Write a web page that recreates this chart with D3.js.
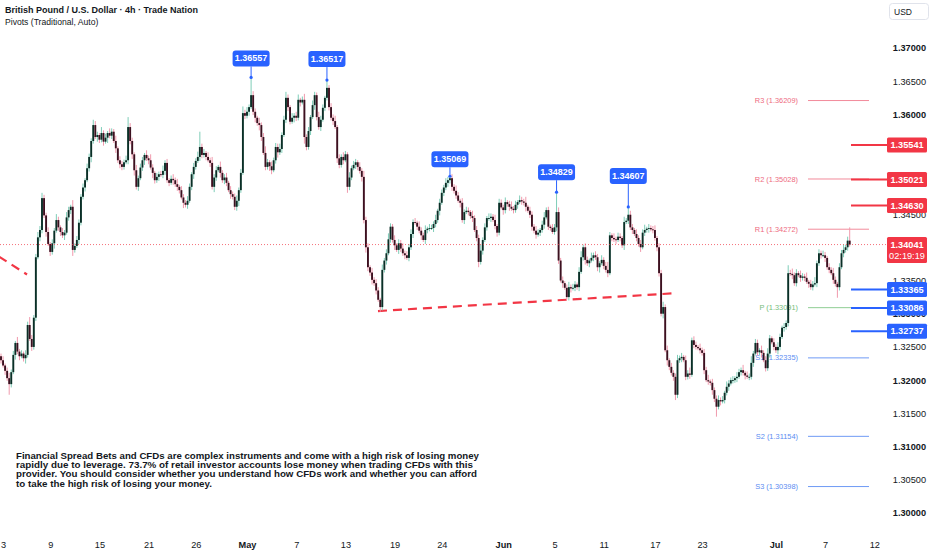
<!DOCTYPE html>
<html>
<head>
<meta charset="utf-8">
<script src="https://cdn.jsdelivr.net/npm/d3@7"></script>
<style>
  body { margin: 0; background: #ffffff; }
  svg { display: block; font-family: "Liberation Sans", Arial, sans-serif; }
</style>
</head>
<body>
<div id="chart"></div>
<script>
// GBPUSD 4h candles, closes in pips (price x 10000), open = previous close
var firstOpen = 13236;
var closes = [
  13230,13222,13214,13203,13194,13212,13238,13256,13243,13236,13240,13233,13238,13283,13262,13250,13294,13385,13415,13426,
  13474,13448,13423,13405,13393,13406,13425,13441,13430,13423,13418,13422,13445,13456,13461,13396,13402,13411,13437,13476,
  13490,13501,13519,13536,13560,13584,13566,13569,13562,13572,13559,13565,13572,13568,13574,13560,13549,13531,13525,13521,
  13528,13531,13581,13560,13540,13516,13491,13504,13520,13531,13539,13534,13531,13520,13512,13501,13506,13510,13509,13515,
  13527,13501,13497,13503,13501,13495,13491,13486,13475,13467,13464,13470,13491,13510,13521,13530,13536,13551,13539,13542,
  13536,13531,13527,13491,13505,13516,13521,13512,13501,13505,13497,13486,13480,13476,13461,13470,13486,13512,13602,13598,
  13604,13611,13629,13604,13595,13587,13584,13566,13542,13521,13528,13522,13516,13531,13551,13543,13548,13569,13592,13625,
  13611,13589,13595,13598,13595,13622,13618,13622,13566,13551,13575,13596,13614,13629,13596,13581,13592,13610,13625,13640,
  13611,13595,13590,13581,13534,13524,13536,13531,13540,13491,13505,13519,13524,13528,13521,13515,13506,13441,13400,13370,
  13362,13351,13346,13335,13321,13310,13366,13380,13391,13412,13431,13411,13403,13396,13406,13398,13391,13388,13384,13400,
  13420,13438,13437,13431,13425,13418,13411,13426,13428,13429,13429,13435,13441,13455,13467,13482,13490,13497,13501,13504,
  13491,13485,13478,13470,13467,13441,13453,13455,13453,13447,13444,13426,13414,13378,13395,13411,13430,13444,13444,13446,
  13441,13432,13422,13467,13460,13456,13468,13465,13461,13458,13456,13464,13468,13471,13469,13467,13461,13455,13449,13431,
  13425,13419,13422,13426,13434,13445,13456,13431,13429,13423,13430,13453,13380,13350,13346,13339,13325,13340,13338,13339,
  13344,13340,13363,13385,13400,13381,13376,13380,13384,13388,13385,13370,13376,13381,13372,13366,13361,13418,13414,13412,
  13411,13416,13414,13403,13438,13440,13449,13430,13426,13420,13414,13405,13400,13422,13426,13428,13429,13427,13426,13414,
  13400,13361,13300,13310,13245,13230,13220,13211,13205,13178,13230,13233,13235,13230,13205,13210,13208,13260,13253,13250,
  13248,13245,13241,13215,13200,13198,13196,13185,13172,13160,13170,13168,13170,13181,13190,13195,13200,13200,13203,13205,
  13212,13215,13211,13207,13205,13205,13226,13240,13256,13242,13245,13241,13230,13218,13240,13263,13257,13250,13245,13250,
  13265,13279,13280,13286,13361,13360,13358,13346,13361,13358,13354,13356,13354,13348,13345,13340,13344,13346,13376,13391,
  13388,13388,13384,13370,13366,13361,13351,13345,13340,13370,13391,13396,13400,13410,13404
];
// wick lengths above / below the body, pips
var wickUp = [
  4,6,3,5,8,4,6,3,9,4,5,3,7,5,12,6,4,5,8,6,
  8,5,4,7,3,6,4,9,5,3,6,4,8,5,3,10,4,6,5,4,
  6,3,7,5,4,8,6,5,3,9,4,6,3,7,5,4,8,3,6,5,
  4,7,15,6,5,3,8,4,6,5,3,7,4,9,5,3,6,4,5,8,
  4,6,3,5,7,4,8,3,6,5,4,7,5,3,6,4,8,23,5,6,
  3,7,4,9,5,6,3,8,4,5,7,3,6,4,5,8,4,6,10,5,
  7,4,26,6,5,3,8,4,6,10,5,3,7,4,6,5,8,4,6,9,
  5,3,7,4,6,8,3,5,9,4,6,3,7,5,4,8,6,5,3,12,
  4,6,5,8,3,6,4,7,5,3,8,4,6,5,3,7,4,9,5,6,
  3,7,4,6,5,3,8,4,6,9,5,4,7,3,6,5,8,4,6,5,
  7,4,6,3,8,5,4,7,3,6,5,4,8,3,6,5,4,7,5,3,
  6,4,8,5,3,7,4,6,5,3,8,4,6,5,9,4,6,3,7,5,
  4,8,3,6,5,4,7,3,5,8,4,6,3,7,5,4,9,3,6,5,
  4,7,5,3,6,8,4,5,3,6,5,30,7,4,6,3,5,8,4,6,
  5,3,7,9,4,6,5,3,8,4,6,5,3,7,4,6,12,5,3,7,
  4,6,5,3,8,4,12,6,5,3,7,4,6,5,8,3,6,4,5,7,
  3,6,5,8,4,7,3,6,4,5,8,4,6,3,7,5,9,4,6,5,
  3,7,4,6,5,8,3,6,4,5,7,4,6,3,8,5,4,6,3,7,
  5,4,8,3,6,5,10,4,6,5,3,7,4,6,8,5,3,6,4,7,
  5,3,6,4,12,5,8,4,6,3,7,5,4,8,3,6,5,9,4,6,
  4,7,5,3,6,4,8,5,3,6,5,8,4,6,20
];
var wickDn = [
  5,3,6,4,16,5,3,7,4,6,3,5,8,4,3,6,4,5,3,6,
  5,4,7,3,6,4,8,3,5,6,4,7,3,5,6,9,4,3,6,4,
  4,6,3,5,8,4,3,7,5,4,6,3,8,4,5,3,7,4,6,5,
  4,3,6,5,7,8,4,6,3,5,7,4,6,3,8,5,4,6,3,5,
  6,4,5,3,7,4,6,5,3,8,4,6,3,5,7,4,3,6,5,4,
  5,3,6,4,8,5,3,7,4,6,5,3,7,4,5,6,8,4,3,5,
  4,6,3,5,7,4,8,6,3,5,4,7,6,3,5,8,4,6,3,5,
  6,4,3,7,5,4,6,3,10,5,4,6,3,7,5,4,6,3,5,4,
  5,4,6,3,7,5,4,6,3,9,5,4,3,6,5,4,7,5,8,6,
  5,7,4,6,3,7,5,4,6,3,5,4,7,3,6,5,4,6,3,5,
  4,6,3,5,4,7,3,6,5,4,3,6,5,4,7,3,5,4,6,5,
  6,4,5,3,7,4,6,3,5,4,6,3,5,8,4,6,3,5,4,6,
  3,5,6,4,3,7,5,4,6,3,5,4,6,3,5,4,7,3,5,6,
  4,6,3,5,4,6,3,5,4,3,4,6,5,3,7,3,4,5,6,3,
  5,4,6,3,5,7,4,6,3,5,4,6,8,3,5,4,6,3,5,4,
  6,3,5,4,7,3,5,4,6,3,5,4,7,3,5,4,6,3,5,4,
  6,5,4,7,3,8,5,4,6,8,5,4,6,3,5,4,6,3,5,4,
  3,5,4,6,3,5,4,7,5,15,4,6,3,5,4,6,3,5,4,6,
  3,5,4,6,3,5,4,6,3,5,4,7,3,5,4,6,3,5,4,6,
  5,3,6,4,5,3,6,4,5,3,6,4,5,3,6,4,5,3,6,4,
  5,3,6,4,5,3,6,4,16,5,3,6,4,5,3
];

// time axis: label and the bar it sits on
var dateLabels = ["3","9","15","21","26","May","7","13","19","24","Jun","5","11","17","23","Jul","7","12"];
var dateBars = [1,24,48,72,95,120,144,168,192,215,245,270,294,319,342,378,402,426];

// price labels not covered by level tags
var priceTicks = [1.300,1.305,1.310,1.315,1.320,1.325,1.330,1.335,1.345,1.360,1.365,1.370];

// pivots (traditional)
var pivotNames = ["R3","R2","R1","P","S1","S2","S3"];
var pivotValues = [1.36209,1.35028,1.34272,1.33091,1.32335,1.31154,1.30398];

// swing-high callouts
var calloutBars = [122,159,219,271,306];
var calloutValues = [1.36557,1.36517,1.35069,1.34829,1.34607];
var calloutLift = [11,13,9,12,23];

// alert levels
var redLevels = [1.35541,1.35021,1.34630];
var blueLevels = [1.33365,1.33086,1.32737];
var lastPrice = 1.34041;
var countdown = "02:19:19";

// dashed trend lines [bar, price]
var trendA = [[-1,1.3386],[12.7,1.3359]];
var trendB = [[183.9,1.3304],[329.7,1.3331]];

var disclaimer = [
  "Financial Spread Bets and CFDs are complex instruments and come with a high risk of losing money",
  "rapidly due to leverage. 73.7% of retail investor accounts lose money when trading CFDs with this",
  "provider. You should consider whether you understand how CFDs work and whether you can afford",
  "to take the high risk of losing your money."
];
var disclaimerWidths = [463,457,461,196];

var svgWidth = 932;
var svgHeight = 550;

var upBody = "#0b2f27", downBody = "#3c1120";
var upWick = "#7fcdb8", downWick = "#f09aad";
var red = "#f23645", blue = "#2962ff";

var candles = closes.map(function(c, i) {
  var o = i === 0 ? firstOpen : closes[i - 1];
  return {
    i: i,
    open: o / 10000,
    close: c / 10000,
    high: (Math.max(o, c) + wickUp[i]) / 10000,
    low: (Math.min(o, c) - wickDn[i]) / 10000
  };
});

var svg = d3.select("#chart")
  .append("svg")
  .attr("width", svgWidth)
  .attr("height", svgHeight);

var xScale = d3.scaleLinear().domain([0, 414]).range([1, 849.7]);
var yScale = d3.scaleLinear().domain([1.30, 1.37]).range([513, 48]);

// pivot lines + labels
var pivotColor = function(n) { return n[0] === "R" ? "#f28b9b" : (n === "P" ? "#8fce93" : "#6f9bf5"); };
var pivotText = function(n) { return n[0] === "R" ? "#ee6b80" : (n === "P" ? "#76bd7b" : "#5a8cf2"); };
var pivots = svg.append("g");
pivots.selectAll("line")
  .data(pivotValues)
  .enter()
  .append("line")
  .attr("x1", 808).attr("x2", 869)
  .attr("y1", d => yScale(d)).attr("y2", d => yScale(d))
  .attr("stroke", (d, i) => pivotColor(pivotNames[i]))
  .attr("stroke-width", 1);
pivots.selectAll("text")
  .data(pivotValues)
  .enter()
  .append("text")
  .attr("x", 798)
  .attr("y", d => yScale(d) + 2.6)
  .attr("text-anchor", "end")
  .style("font-size", "7.4px")
  .style("fill", (d, i) => pivotText(pivotNames[i]))
  .text((d, i) => pivotNames[i] + " (" + d3.format(".5f")(d) + ")");

// trend lines
var trendLine = d3.line().x(d => xScale(d[0])).y(d => yScale(d[1]));
svg.selectAll(".trend")
  .data([trendA, trendB])
  .enter()
  .append("path")
  .attr("class", "trend")
  .attr("d", trendLine)
  .attr("fill", "none")
  .attr("stroke", red)
  .attr("stroke-width", 2.2)
  .attr("stroke-dasharray", "9,6");

// candles
var candleGroup = svg.append("g");
candleGroup.selectAll("line")
  .data(candles)
  .enter()
  .append("line")
  .attr("x1", d => xScale(d.i)).attr("x2", d => xScale(d.i))
  .attr("y1", d => yScale(d.high)).attr("y2", d => yScale(d.low))
  .attr("stroke", d => d.close >= d.open ? upWick : downWick)
  .attr("stroke-width", 1);
candleGroup.selectAll("rect")
  .data(candles)
  .enter()
  .append("rect")
  .attr("x", d => xScale(d.i) - 0.95)
  .attr("width", 1.9)
  .attr("y", d => yScale(Math.max(d.open, d.close)))
  .attr("height", d => Math.max(0.9, Math.abs(yScale(d.open) - yScale(d.close))))
  .attr("fill", d => d.close >= d.open ? upBody : downBody);

// last price dotted line
svg.append("line")
  .attr("x1", 0).attr("x2", 887)
  .attr("y1", yScale(lastPrice)).attr("y2", yScale(lastPrice))
  .attr("stroke", red)
  .attr("stroke-width", 1)
  .attr("stroke-dasharray", "1,2")
  .attr("opacity", 0.7);

// callouts
var callouts = svg.selectAll(".callout")
  .data(calloutValues)
  .enter()
  .append("g")
  .attr("class", "callout")
  .attr("transform", (d, i) => `translate(${xScale(calloutBars[i])},${yScale(d)})`);
callouts.append("line")
  .attr("x1", 0).attr("x2", 0)
  .attr("y1", 0).attr("y2", (d, i) => -calloutLift[i])
  .attr("stroke", blue).attr("stroke-width", 1);
callouts.append("circle")
  .attr("r", 1.6).attr("fill", blue);
callouts.append("rect")
  .attr("x", -18.5).attr("width", 37)
  .attr("y", (d, i) => -calloutLift[i] - 16).attr("height", 16)
  .attr("rx", 3)
  .attr("fill", blue);
callouts.append("text")
  .attr("y", (d, i) => -calloutLift[i] - 5)
  .attr("text-anchor", "middle")
  .style("font-size", "9px")
  .style("font-weight", "600")
  .style("fill", "#ffffff")
  .text(d => d3.format(".5f")(d));

// price axis
var yAxis = d3.axisRight(yScale).tickValues(priceTicks).tickSize(0).tickFormat(d3.format(".5f"));
var yAxisG = svg.append("g")
  .attr("transform", "translate(926,0)")
  .call(yAxis);
yAxisG.select(".domain").remove();
yAxisG.selectAll("text")
  .attr("x", 0)
  .attr("text-anchor", "end")
  .style("font-family", "Liberation Sans, Arial, sans-serif")
  .style("font-size", "9.2px")
  .style("font-weight", d => Math.round(d * 1000) % 10 === 0 ? "700" : "400")
  .style("fill", "#131722");

// alert level lines + tags
var levels = redLevels.map(v => ({ v: v, c: red })).concat(blueLevels.map(v => ({ v: v, c: blue })));
var tags = svg.selectAll(".tag")
  .data(levels)
  .enter()
  .append("g")
  .attr("class", "tag")
  .attr("transform", d => `translate(0,${yScale(d.v)})`);
tags.append("line")
  .attr("x1", 851).attr("x2", 888)
  .attr("stroke", d => d.c).attr("stroke-width", 2);
tags.append("rect")
  .attr("x", 887).attr("y", -7.5)
  .attr("width", 40).attr("height", 15)
  .attr("rx", 1.5)
  .attr("fill", d => d.c);
tags.append("text")
  .attr("x", 907).attr("y", 3.3)
  .attr("text-anchor", "middle")
  .style("font-size", "9.2px")
  .style("font-weight", "600")
  .style("fill", "#ffffff")
  .text(d => d3.format(".5f")(d.v));

var lastTag = svg.append("g").attr("transform", `translate(0,${yScale(lastPrice)})`);
lastTag.append("rect")
  .attr("x", 887).attr("y", -7.5)
  .attr("width", 40).attr("height", 26)
  .attr("rx", 1.5)
  .attr("fill", red);
lastTag.append("text")
  .attr("x", 907).attr("y", 3.3)
  .attr("text-anchor", "middle")
  .style("font-size", "9.2px").style("font-weight", "600").style("fill", "#fff")
  .text(d3.format(".5f")(lastPrice));
lastTag.append("text")
  .attr("x", 907).attr("y", 14.3)
  .attr("text-anchor", "middle")
  .style("font-size", "9.2px").style("fill", "#fff")
  .text(countdown);

// time axis
var xAxis = d3.axisBottom(xScale)
  .tickValues(dateBars)
  .tickSize(0)
  .tickFormat((d, i) => dateLabels[i]);
var xAxisG = svg.append("g")
  .attr("transform", "translate(0,531)")
  .call(xAxis);
xAxisG.select(".domain").remove();
xAxisG.selectAll("text")
  .attr("y", 10)
  .style("font-family", "Liberation Sans, Arial, sans-serif")
  .style("font-size", "9.2px")
  .style("font-weight", (d, i) => isNaN(+dateLabels[i]) ? "700" : "400")
  .style("fill", "#131722");

// USD box
svg.append("rect")
  .attr("x", 889.5).attr("y", 3.5)
  .attr("width", 39).attr("height", 16)
  .attr("rx", 3)
  .attr("fill", "#fff")
  .attr("stroke", "#e0e3eb");
svg.append("text")
  .attr("x", 894).attr("y", 14.5)
  .style("font-size", "8.5px")
  .style("fill", "#131722")
  .text("USD");

// header
svg.append("text")
  .attr("x", 5).attr("y", 13)
  .style("font-size", "9px")
  .style("font-weight", "700")
  .style("fill", "#131722")
  .text("British Pound / U.S. Dollar · 4h · Trade Nation");
svg.append("text")
  .attr("x", 5).attr("y", 24.5)
  .style("font-size", "8.6px")
  .style("fill", "#131722")
  .text("Pivots (Traditional, Auto)");

// disclaimer
svg.selectAll(".disc")
  .data(disclaimer)
  .enter()
  .append("text")
  .attr("class", "disc")
  .attr("x", 16)
  .attr("y", (d, i) => 458.5 + i * 9.4)
  .attr("textLength", (d, i) => disclaimerWidths[i])
  .attr("lengthAdjust", "spacingAndGlyphs")
  .style("font-size", "9.6px")
  .style("font-weight", "700")
  .style("fill", "#131722")
  .text(d => d);
</script>
</body>
</html>
